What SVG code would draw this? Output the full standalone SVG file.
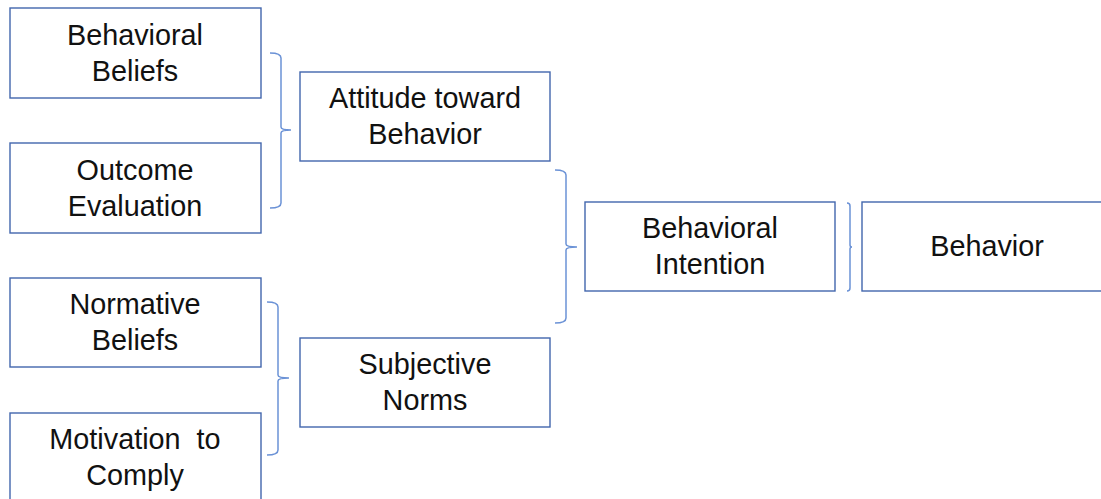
<svg xmlns="http://www.w3.org/2000/svg" width="1101" height="499" viewBox="0 0 1101 499">
<style>
.box{fill:#fff;stroke:#4266ad;stroke-width:1.4}
.t{font-family:"Liberation Sans",Arial,sans-serif;font-size:28.8px;fill:#111;text-anchor:middle}
.br{fill:none;stroke:#6b92d6;stroke-width:1.5}
</style>
<rect width="1101" height="499" fill="#fff"/>
<g id="connectors">
<path class="br" d="M270,53 Q281,53 281,58 L281,127 Q281,130 291,130 Q281,130 281,133 L281,203 Q281,208 270,208"/>
<path class="br" d="M555,170 Q566,170 566,175 L566,244 Q566,247 577,247 Q566,247 566,250 L566,318 Q566,323 555,323"/>
<path class="br" d="M847,203 Q850,203 850,206 L850,245 Q850,247 852,247 Q850,247 850,249 L850,288 Q850,291 847,291"/>
<path class="br" d="M267,302 Q278,302 278,307 L278,375 Q278,378 289,378 Q278,378 278,381 L278,450 Q278,455 267,455"/>
</g>
<g id="behavioral-beliefs"><rect class="box" x="10" y="8" width="251" height="90"/><text class="t" x="135" y="45">Behavioral</text><text class="t" x="135" y="81">Beliefs</text></g>
<g id="outcome-evaluation"><rect class="box" x="10" y="143" width="251" height="90"/><text class="t" x="135" y="180">Outcome</text><text class="t" x="135" y="216">Evaluation</text></g>
<g id="normative-beliefs"><rect class="box" x="10" y="278" width="251" height="89"/><text class="t" x="135" y="314">Normative</text><text class="t" x="135" y="350">Beliefs</text></g>
<g id="motivation-to-comply"><rect class="box" x="10" y="413" width="251" height="92"/><text class="t" x="135" y="449" xml:space="preserve">Motivation  to</text><text class="t" x="135" y="485">Comply</text></g>
<g id="attitude"><rect class="box" x="300" y="72" width="250" height="89"/><text class="t" x="425" y="108">Attitude toward</text><text class="t" x="425" y="144">Behavior</text></g>
<g id="subjective-norms"><rect class="box" x="300" y="338" width="250" height="89"/><text class="t" x="425" y="374">Subjective</text><text class="t" x="425" y="410">Norms</text></g>
<g id="behavioral-intention"><rect class="box" x="585" y="202" width="250" height="89"/><text class="t" x="710" y="238">Behavioral</text><text class="t" x="710" y="274">Intention</text></g>
<g id="behavior"><rect class="box" x="862" y="202" width="245" height="89"/><text class="t" x="987" y="256">Behavior</text></g>
</svg>
